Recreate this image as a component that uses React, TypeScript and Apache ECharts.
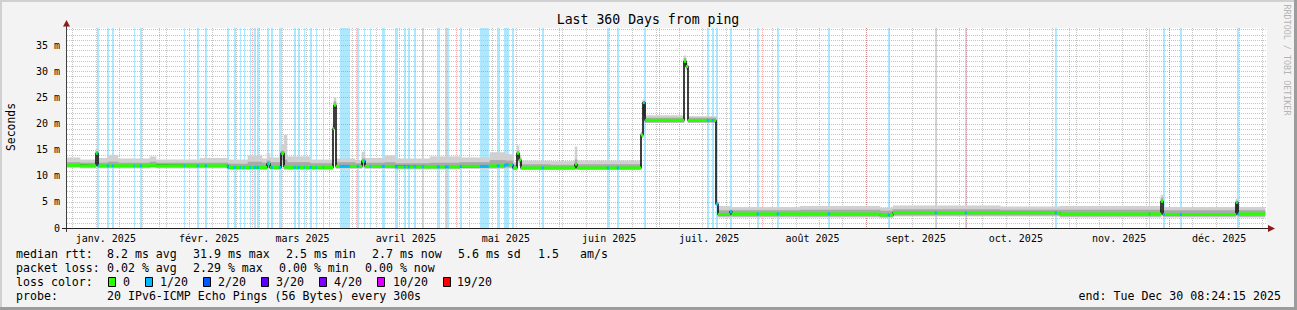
import React, { useEffect, useRef } from "react";
import * as echarts from "echarts";

const MONO = "'DejaVu Sans Mono', monospace";
const START_MS = Date.UTC(2025, 0, 4, 8, 24, 15);
const DAY_MS = 86400000;
const SPAN_DAYS = 360;
const Y_MAX = 38.28;

const monthLabels = [
  "janv. 2025", "févr. 2025", "mars 2025", "avril 2025", "mai 2025", "juin 2025",
  "juil. 2025", "août 2025", "sept. 2025", "oct. 2025", "nov. 2025", "déc. 2025",
];

// segment starts (days since start), median rtt (ms) and smoke bounds (ms)
const segStart = [0, 3.9, 8.7, 9.3, 12.3, 15.3, 24.9, 26.7, 39.9, 48.3, 54.3, 58.5, 60.0, 60.9, 64.2, 65.1, 66.0, 72.9, 79.8, 80.1, 80.7, 86.4, 88.5, 89.4, 95.4, 98.4, 108.9, 117.9, 126.9, 131.4, 133.8, 135.0, 135.6, 136.2, 144.9, 152.4, 153.0, 172.2, 172.8, 173.4, 185.1, 185.7, 186.3, 194.7, 195.3, 198.9, 199.5, 219.9, 243.9, 247.8, 279.9, 297.9, 328.2, 328.8, 350.7, 351.3];
const segEnd = 359.4;
const medianMs = [12.0, 11.9, 14.3, 11.9, 11.9, 11.9, 12.0, 11.9, 11.9, 11.6, 11.6, 11.6, 12.3, 11.6, 14.3, 11.7, 11.6, 11.6, 19.0, 23.5, 11.8, 11.8, 12.8, 11.8, 11.8, 11.7, 11.7, 11.8, 11.9, 12.1, 11.5, 14.3, 13.0, 11.5, 11.5, 12.2, 11.5, 17.8, 24.0, 20.6, 31.9, 30.9, 20.6, 4.6, 2.6, 3.1, 2.7, 2.7, 2.5, 2.9, 2.9, 2.7, 5.1, 2.6, 4.9, 2.7];
const smokeLightLo = [11.5, 11.4, 13.8, 11.4, 11.4, 11.4, 11.5, 11.4, 11.4, 11.1, 11.1, 11.1, 11.3, 11.1, 12.0, 11.1, 11.1, 11.1, 18.5, 22.8, 11.3, 11.3, 11.5, 11.3, 11.3, 11.2, 11.2, 11.3, 11.3, 11.4, 11.1, 13.5, 12.0, 11.1, 11.1, 11.2, 11.1, 17.2, 20.8, 20.1, 31.0, 30.2, 20.1, 4.2, 2.0, 2.1, 2.0, 2.0, 1.9, 2.2, 2.2, 2.0, 4.5, 2.0, 2.3, 2.0];
const smokeLightHi = [13.5, 13.1, 15.2, 13.4, 14.0, 13.3, 13.7, 13.1, 13.4, 13.1, 13.9, 13.3, 14.3, 13.5, 16.0, 17.8, 13.7, 13.1, 20.0, 25.0, 13.3, 12.9, 14.6, 13.4, 13.9, 13.3, 13.7, 13.5, 14.5, 14.1, 12.6, 15.8, 14.0, 12.9, 12.8, 15.6, 12.9, 18.5, 24.6, 21.6, 33.0, 31.6, 21.4, 5.4, 4.2, 4.0, 4.0, 4.2, 3.9, 4.3, 4.1, 4.2, 6.3, 4.0, 5.6, 4.0];
const smokeMidLo = [11.7, 11.6, 14.0, 11.6, 11.6, 11.6, 11.7, 11.6, 11.6, 11.3, 11.3, 11.3, 11.5, 11.3, 13.0, 11.3, 11.3, 11.3, 18.8, 23.0, 11.5, 11.5, 12.0, 11.5, 11.5, 11.4, 11.4, 11.5, 11.5, 11.6, 11.2, 13.8, 12.5, 11.2, 11.2, 11.4, 11.2, 17.5, 21.5, 20.2, 31.4, 30.5, 20.2, 4.4, 2.2, 2.3, 2.2, 2.2, 2.1, 2.4, 2.4, 2.2, 4.8, 2.2, 2.5, 2.2];
const smokeMidHi = [12.6, 12.5, 14.7, 12.5, 12.7, 12.5, 12.7, 12.5, 12.5, 12.3, 12.7, 12.5, 12.9, 12.6, 14.8, 13.1, 12.6, 12.4, 19.5, 24.2, 12.6, 12.4, 13.3, 12.5, 12.6, 12.4, 12.5, 12.6, 13.0, 12.9, 12.1, 14.8, 13.5, 12.2, 12.1, 13.1, 12.2, 18.2, 24.2, 21.1, 32.5, 31.2, 21.1, 5.0, 3.4, 3.5, 3.4, 3.5, 3.3, 3.6, 3.5, 3.5, 5.8, 3.4, 5.2, 3.4];

// periods with packet loss (days since start)
const lossBands = [
  [9.0, 9.6], [12.0, 12.6], [13.5, 14.1], [20.1, 20.4], [21.9, 22.5], [35.1, 35.4], [39.0, 39.6], [41.4, 42.0],
  [48.0, 48.6], [50.1, 50.7], [51.9, 52.2], [53.1, 53.4], [54.9, 55.2], [56.1, 56.7], [57.0, 57.6], [60.0, 60.6],
  [61.2, 61.8], [63.6, 64.5], [68.1, 68.7], [69.3, 69.9], [71.1, 71.4], [72.9, 73.5], [74.7, 75.0], [76.8, 77.1],
  [81.9, 84.9], [87.0, 87.6], [89.1, 89.4], [90.9, 91.2], [94.5, 95.4], [98.4, 99.3], [101.1, 101.7], [102.3, 102.9],
  [104.1, 104.7], [106.5, 107.1], [111.0, 111.9], [113.4, 114.6], [117.9, 118.5], [123.9, 126.6], [129.0, 129.9],
  [131.1, 132.6], [133.5, 134.1], [142.5, 143.1], [162.0, 162.6], [165.0, 165.6], [173.1, 173.7], [192.0, 192.6],
  [193.5, 194.1], [194.7, 195.3], [198.9, 199.5], [207.0, 207.6], [213.0, 213.6], [228.3, 228.9], [246.3, 246.9],
  [260.4, 261.0], [269.4, 270.0], [296.4, 297.0], [324.6, 324.9], [328.8, 329.4], [333.9, 334.5], [351.0, 351.6],
];

const lossColors = ["#26ff00", "#00b8ff", "#0059ff", "#5e00ff", "#7e00ff", "#dd00ff", "#ff0000"];
const lossNames = ["0", "1/20", "2/20", "3/20", "4/20", "10/20", "19/20"];

const dayOf = (y: number, m: number, d: number) => (Date.UTC(y, m, d) - START_MS) / DAY_MS;

const labelDays = monthLabels.map((_, m) => dayOf(2025, m, 16));
const monthLines: number[] = [];
for (let m = 1; m < 12; m++) monthLines.push(dayOf(2025, m, 1));
const weekLines: number[] = [];
for (let d = dayOf(2025, 0, 6); d < SPAN_DAYS; d += 7) weekLines.push(d);
const hMinor: number[] = [];
const hMajor: number[] = [];
for (let v = 1; v <= 38; v++) (v % 5 === 0 ? hMajor : hMinor).push(v);

function segEndAt(i: number) {
  return i + 1 < segStart.length ? segStart[i + 1] : segEnd;
}

function buildMedianPieces() {
  const pieces: number[][] = [];
  for (let i = 0; i < segStart.length; i++) {
    const s = segStart[i];
    const e = segEndAt(i);
    const cuts = [s, e];
    lossBands.forEach(([a, b]) => {
      if (a > s && a < e) cuts.push(a);
      if (b > s && b < e) cuts.push(b);
    });
    cuts.sort((p, q) => p - q);
    for (let k = 0; k + 1 < cuts.length; k++) {
      const a = cuts[k], b = cuts[k + 1];
      if (b - a < 1e-9) continue;
      const mid = (a + b) / 2;
      const loss = lossBands.some(([x0, x1]) => mid >= x0 && mid < x1) ? 1 : 0;
      pieces.push([a, b, medianMs[i], loss]);
    }
  }
  return pieces;
}

function rectSeries(name: string, data: number[][], fill: string, z: number) {
  return {
    name,
    type: "custom",
    silent: true,
    clip: true,
    z,
    data,
    renderItem: (params: any, api: any) => {
      const p0 = api.coord([api.value(0), api.value(3)]);
      const p1 = api.coord([api.value(1), api.value(2)]);
      return {
        type: "rect",
        shape: { x: p0[0] - 0.3, y: p0[1], width: Math.max(p1[0] - p0[0], 0.6) + 0.6, height: Math.max(p1[1] - p0[1], 1) },
        style: { fill },
      };
    },
  };
}

function gridSeries(name: string, values: number[], vertical: boolean, stroke: string, z: number) {
  return {
    name,
    type: "custom",
    silent: true,
    z,
    data: values.map((v) => (vertical ? [v, 0] : [0, v])),
    renderItem: (params: any, api: any) => {
      const cs = params.coordSys;
      const p = api.coord([api.value(0), api.value(1)]);
      if (vertical) {
        const x = Math.round(p[0]) + 0.5;
        return { type: "line", shape: { x1: x, y1: cs.y, x2: x, y2: cs.y + cs.height }, style: { stroke, lineWidth: 1, lineDash: [1, 1] } };
      }
      const y = Math.round(p[1]) + 0.5;
      return { type: "line", shape: { x1: cs.x, y1: y, x2: cs.x + cs.width, y2: y }, style: { stroke, lineWidth: 1, lineDash: [1, 1] } };
    },
  };
}

function txt(text: string, x: number, y: number, extra: any = {}) {
  return {
    type: "text",
    x,
    y,
    z: 100,
    silent: true,
    style: { text, fontFamily: MONO, fontSize: 11.6, fill: "#000", textAlign: "left", textVerticalAlign: "middle", ...extra },
  };
}

export default function App() {
  const ref = useRef<HTMLDivElement>(null);

  useEffect(() => {
    if (!ref.current) return;
    const chart = echarts.init(ref.current, null, { renderer: "svg" });

    const lightData = segStart.map((s, i) => [s, segEndAt(i), smokeLightLo[i], smokeLightHi[i]]);
    const midData = segStart.map((s, i) => [s, segEndAt(i), smokeMidLo[i], smokeMidHi[i]]);
    const stepData = segStart.map((s, i) => [s, medianMs[i]]);
    stepData.push([segEnd, medianMs[medianMs.length - 1]]);
    const pieces = buildMedianPieces();

    const swatchX = [108, 145, 203, 261, 319, 377, 443];
    const swatchLabelX = [123, 160, 218, 276, 334, 393, 457];

    const graphic: any[] = [
      // frame
      { type: "rect", z: 100, shape: { x: 0, y: 0, width: 1297, height: 2 }, style: { fill: "#d0d0d0" } },
      { type: "rect", z: 100, shape: { x: 0, y: 0, width: 2, height: 310 }, style: { fill: "#d0d0d0" } },
      { type: "rect", z: 100, shape: { x: 0, y: 307, width: 1297, height: 3 }, style: { fill: "#9c9c9c" } },
      { type: "rect", z: 100, shape: { x: 1294, y: 0, width: 3, height: 310 }, style: { fill: "#9c9c9c" } },
      // axes
      { type: "line", z: 100, shape: { x1: 66.5, y1: 232, x2: 66.5, y2: 25 }, style: { stroke: "#404040", lineWidth: 1 } },
      { type: "line", z: 100, shape: { x1: 62, y1: 228.5, x2: 1270, y2: 228.5 }, style: { stroke: "#202020", lineWidth: 1 } },
      { type: "polygon", z: 101, shape: { points: [[63, 26.5], [66.5, 20], [70, 26.5]] }, style: { fill: "#8b1a1a" } },
      { type: "polygon", z: 101, shape: { points: [[1268, 225], [1275, 228.5], [1268, 232]] }, style: { fill: "#8b1a1a" } },
      // titles
      txt("Last 360 Days from ping", 648, 19, { fontSize: 13.2, textAlign: "center" }),
      { ...txt("Seconds", 11, 127, { fontSize: 11.4, textAlign: "center" }), rotation: Math.PI / 2 },
      { ...txt("RRDTOOL / TOBI OETIKER", 1287, 60, { fontSize: 8.4, textAlign: "center", fill: "#b4b4b4" }), rotation: -Math.PI / 2 },
      // legend row 1
      txt("median rtt:", 16, 254),
      txt("8.2 ms avg", 107, 254),
      txt("31.9 ms max", 193, 254),
      txt("2.5 ms min", 286, 254),
      txt("2.7 ms now", 372, 254),
      txt("5.6 ms sd", 458, 254),
      txt("1.5", 538, 254),
      txt("am/s", 580, 254),
      // legend row 2
      txt("packet loss:", 16, 268),
      txt("0.02 % avg", 107, 268),
      txt("2.29 % max", 193, 268),
      txt("0.00 % min", 279, 268),
      txt("0.00 % now", 365, 268),
      // legend row 3
      txt("loss color:", 16, 282),
      // legend row 4
      txt("probe:", 16, 296),
      txt("20 IPv6-ICMP Echo Pings (56 Bytes) every 300s", 107, 296),
      txt("end: Tue Dec 30 08:24:15 2025", 1281, 296, { textAlign: "right" }),
    ];
    lossColors.forEach((c, i) => {
      graphic.push({ type: "rect", z: 100, shape: { x: swatchX[i] + 0.5, y: 277.5, width: 7, height: 9 }, style: { fill: c, stroke: "#000", lineWidth: 1 } });
      graphic.push(txt(lossNames[i], swatchLabelX[i], 282));
    });

    const option: any = {
      animation: false,
      backgroundColor: "#f3f3f3",
      tooltip: { show: false },
      grid: { left: 67, top: 28, width: 1200, height: 200, show: true, backgroundColor: "#ffffff", borderWidth: 0 },
      xAxis: {
        type: "value",
        min: 0,
        max: SPAN_DAYS,
        axisLine: { show: false },
        axisTick: { show: false },
        splitLine: { show: false },
        axisLabel: {
          customValues: labelDays,
          formatter: (v: number) => {
            const i = labelDays.findIndex((d) => Math.abs(d - v) < 1e-6);
            return i >= 0 ? monthLabels[i] : "";
          },
          fontFamily: MONO,
          fontSize: 10,
          color: "#000",
          margin: 5,
        },
      },
      yAxis: {
        type: "value",
        min: 0,
        max: Y_MAX,
        interval: 5,
        axisLine: { show: false },
        axisTick: { show: false },
        splitLine: { show: false },
        axisLabel: {
          formatter: (v: number) => (Math.abs(v % 5) < 1e-9 ? (v === 0 ? "0" : `${v} m`) : ""),
          fontFamily: MONO,
          fontSize: 10,
          color: "#000",
          margin: 7,
        },
      },
      series: [
        {
          name: "loss",
          type: "custom",
          silent: true,
          z: 1,
          data: lossBands,
          renderItem: (params: any, api: any) => {
            const cs = params.coordSys;
            const a = api.coord([api.value(0), 0]);
            const b = api.coord([api.value(1), 0]);
            return { type: "rect", shape: { x: a[0], y: cs.y, width: Math.max(b[0] - a[0], 1), height: cs.height }, style: { fill: "rgba(0,184,255,0.32)" } };
          },
        },
        gridSeries("weeks", weekLines, true, "#c4c4c4", 2),
        gridSeries("hminor", hMinor, false, "#c4c4c4", 2),
        gridSeries("months", monthLines, true, "rgba(235,60,60,0.42)", 3),
        gridSeries("hmajor", hMajor, false, "rgba(235,60,60,0.42)", 3),
        rectSeries("smokeLight", lightData, "#d0d0d0", 4),
        rectSeries("smokeMid", midData, "#a9a9a9", 5),
        {
          name: "median",
          type: "line",
          step: "end",
          silent: true,
          z: 6,
          symbol: "none",
          data: stepData,
          lineStyle: { color: "#000", width: 1.5 },
        },
        {
          name: "medianColor",
          type: "custom",
          silent: true,
          clip: true,
          z: 7,
          data: pieces,
          renderItem: (params: any, api: any) => {
            const p0 = api.coord([api.value(0), api.value(2)]);
            const p1 = api.coord([api.value(1), api.value(2)]);
            return {
              type: "rect",
              shape: { x: p0[0] - 0.2, y: p0[1] - 1.5, width: Math.max(p1[0] - p0[0], 1) + 0.4, height: 3 },
              style: { fill: lossColors[api.value(3)] },
            };
          },
        },
      ],
      graphic,
    };

    chart.setOption(option);
    return () => chart.dispose();
  }, []);

  return <div ref={ref} style={{ position: "absolute", left: 0, top: 0, width: 1297, height: 310 }} />;
}
